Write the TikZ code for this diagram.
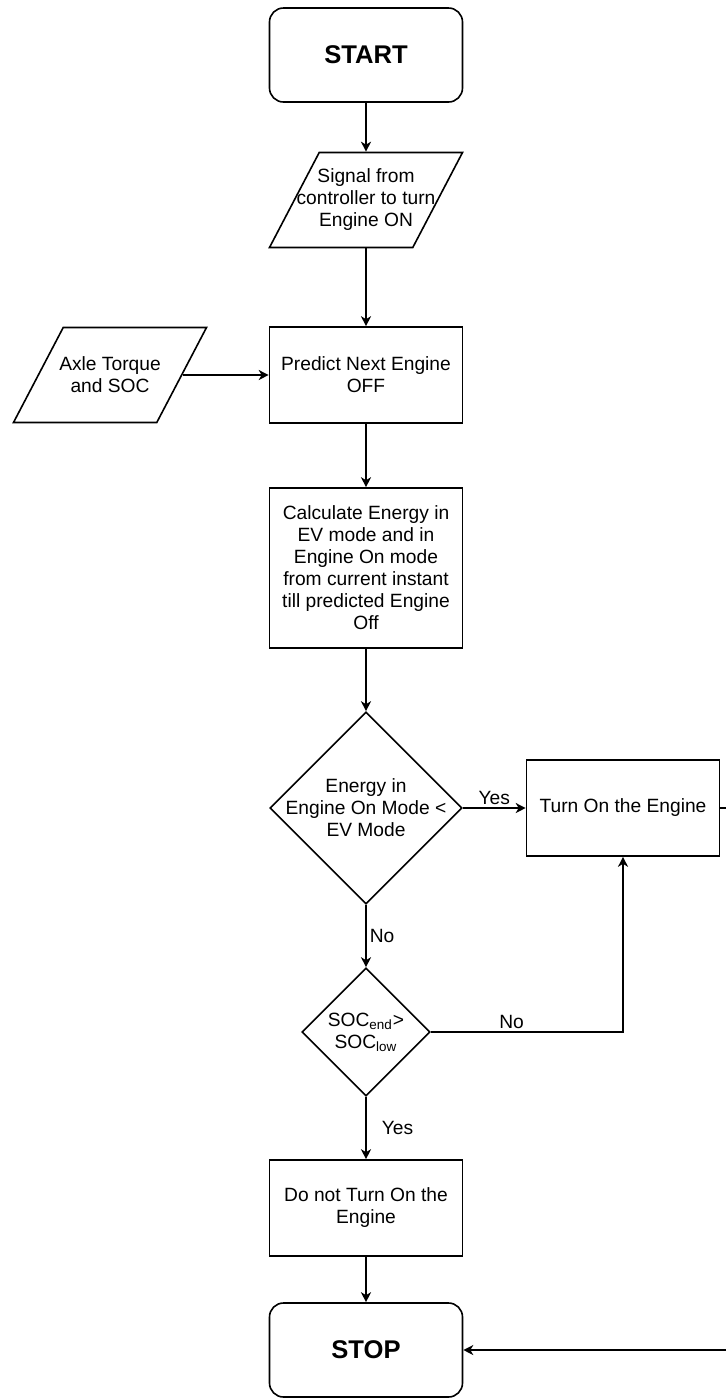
\documentclass[tikz,border=0pt]{standalone}
\usepackage{fontspec}
\setmainfont{Liberation Sans}
\usetikzlibrary{shapes.geometric,arrows.meta}
\newcommand*{\soc}[1]{SOC\textsubscript{#1}}

\begin{document}
\begin{tikzpicture}[x=0.5pt,y=-0.5pt,
  every node/.style={font=\fontsize{9.6}{11}\selectfont},
  term/.style={draw,line width=0.8pt,rounded corners=7pt,minimum width=96.5pt,
               minimum height=47pt,font=\fontsize{12.8}{15}\selectfont\bfseries},
  io/.style={draw,line width=0.8pt,trapezium,trapezium left angle=62,
             trapezium right angle=118,trapezium stretches=true,
             minimum width=96.5pt,minimum height=47.5pt,inner sep=1pt},
  proc/.style={draw,line width=0.8pt,minimum width=96.5pt,minimum height=48pt,
               align=center,inner sep=1pt},
  dec/.style={draw,line width=0.8pt,diamond,minimum width=96pt,
              minimum height=96pt,inner sep=1pt},
  flow/.style={line width=0.8pt,-{Stealth[length=5pt,width=5pt,inset=1.5pt]}},
  lab/.style={inner sep=1.5pt}]
% picture frame, pixel units with y going down
\useasboundingbox (0,0) rectangle (726,1399);
\clip (0,0) rectangle (726,1399);
% Start and the two inputs
\node[term] (start) at (366,55) {START};
\node[io,label={[align=center]center:Signal from\\controller to turn\\Engine ON}]
  (sig) at (366,200) {};
\node[io,label={[align=center]center:Axle Torque\\and SOC}] (axle) at (110,375) {};
% Prediction and energy calculation
\node[proc] (pred) at (366,375) {Predict Next Engine\\OFF};
\node[proc,minimum height=80pt] (calc) at (366,568)
  {Calculate Energy in\\EV mode and in\\Engine On mode\\from current instant\\
   till predicted Engine\\Off};
% First decision
\node[dec,label={[align=center]center:Energy in\\Engine On Mode <\\EV Mode}]
  (dec1) at (366,808) {};
\node[proc] (turn) at (623,808) {Turn On the Engine};
% Second decision, on the state of charge
\node[dec,minimum width=64pt,minimum height=64pt,
      label={[align=center]center:\soc{end}>\\\soc{low}}] (dec2) at (366,1032) {};
\node[proc] (dont) at (366,1208) {Do not Turn On the\\Engine};
\node[term] (stop) at (366,1350) {STOP};
% Connectors
\draw[flow] (start) -- (sig);
\draw[flow] (sig) -- (pred);
\draw[flow] (axle) -- (pred);
\draw[flow] (pred) -- (calc);
\draw[flow] (calc) -- (dec1);
\draw[flow] (dec1) -- node[lab,above] {Yes} (turn);
\draw[flow] (dec1) -- node[lab,right] {No} (dec2);
\draw[flow] (dec2) -| node[lab,above,pos=0.21] {No} (turn);
\draw[flow] (dec2) -- node[lab,right,xshift=6pt] {Yes} (dont);
\draw[flow] (dont) -- (stop);
% Loop from the engine box back to the end
\draw[flow] (turn.east) -- ++(30,0) |- (stop);
\end{tikzpicture}
\end{document}
